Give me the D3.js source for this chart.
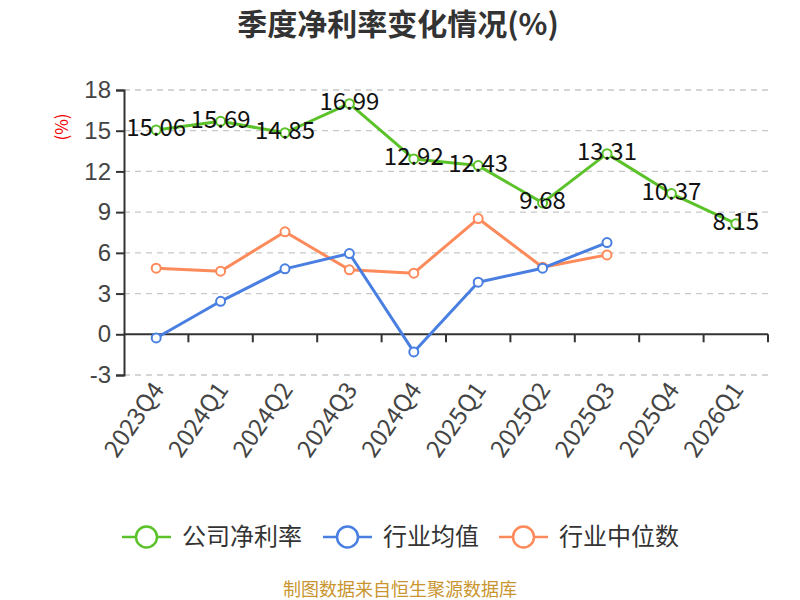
<!DOCTYPE html>
<html>
<head>
<meta charset="utf-8">
<script src="https://cdn.jsdelivr.net/npm/d3@7"></script>
<style>
    body { margin: 0; background: #fff; }
    svg { font-family: "Noto Sans CJK SC", "Noto Sans", sans-serif; }
</style>
</head>
<body>
<div id="chartdiv"></div>
<script>
/*global d3 */

var quarters = ["2023Q4", "2024Q1", "2024Q2", "2024Q3", "2024Q4",
                "2025Q1", "2025Q2", "2025Q3", "2025Q4", "2026Q1"],
    companyRate = [15.06, 15.69, 14.85, 16.99, 12.92, 12.43, 9.68, 13.31, 10.37, 8.15],
    industryAvg = [-0.27, 2.43, 4.82, 5.95, -1.3, 3.84, 4.87, 6.76],
    industryMedian = [4.87, 4.65, 7.55, 4.75, 4.5, 8.53, 4.94, 5.85],
    yTicks = [-3, 0, 3, 6, 9, 12, 15, 18],
    seriesNames = ["公司净利率", "行业均值", "行业中位数"];

var app = (function () {
    "use strict";

    var colors = ["#5cc22a", "#4a7fe2", "#fd8a5a"],
        box = {l: 124, r: 768, t: 90, b: 375};

    function drawAxes(svg, x, y) {
        //dashed grid lines, zero line is the solid x axis
        svg.append("g").selectAll("line")
            .data(yTicks.filter(function (t) { return t !== 0; }))
            .join("line")
            .attr("x1", box.l).attr("x2", box.r)
            .attr("y1", function (t) { return y(t); })
            .attr("y2", function (t) { return y(t); })
            .attr("stroke", "#c8c8c8")
            .attr("stroke-width", 1.3)
            .attr("stroke-dasharray", "6,5");
        var ya = svg.append("g")
            .attr("transform", "translate(" + box.l + ",0)")
            .call(d3.axisLeft(y).tickValues(yTicks).tickSize(8).tickPadding(5)
                  .tickFormat(function (t) { return String(t); }));
        ya.select(".domain").attr("stroke", "#333").attr("stroke-width", 2);
        ya.selectAll(".tick line").attr("stroke", "#333").attr("stroke-width", 2);
        ya.selectAll(".tick text")
            .attr("fill", "#444")
            .style("font-size", "24px");
        var xa = svg.append("g")
            .attr("transform", "translate(0," + y(0) + ")")
            .call(d3.axisBottom(x).tickSize(8).tickFormat(""));
        xa.select(".domain").attr("stroke", "#333").attr("stroke-width", 2)
            .attr("d", "M" + box.l + ",0H" + box.r);
        xa.selectAll(".tick").attr("transform", function (d) {
            return "translate(" + (x(d) + x.bandwidth()) + ",0)"; });
        xa.selectAll(".tick line").attr("stroke", "#333").attr("stroke-width", 2);
        //category labels sit under the plot, rotated
        svg.append("g").selectAll("text")
            .data(quarters)
            .join("text")
            .attr("transform", function (d) {
                return "translate(" + (x(d) + x.bandwidth() / 2 + 2) + "," +
                    (box.b + 10) + ") rotate(-55)"; })
            .attr("text-anchor", "end")
            .attr("dy", "0.35em")
            .attr("fill", "#444")
            .style("font-size", "24px")
            .text(function (d) { return d; });
        svg.append("text")
            .attr("transform", "translate(62," + 127 + ") rotate(-90)")
            .attr("text-anchor", "middle")
            .attr("dy", "0.35em")
            .attr("fill", "#e00")
            .style("font-size", "17px")
            .text("(%)");
    }

    function drawSeries(svg, x, y, vals, color) {
        var cx = function (d, i) { return x(quarters[i]) + x.bandwidth() / 2; },
            line = d3.line().x(cx).y(function (d) { return y(d); });
        svg.append("path")
            .datum(vals)
            .attr("d", line)
            .attr("fill", "none")
            .attr("stroke", color)
            .attr("stroke-width", 3)
            .attr("stroke-linejoin", "round");
        svg.append("g").selectAll("circle")
            .data(vals)
            .join("circle")
            .attr("cx", cx)
            .attr("cy", function (d) { return y(d); })
            .attr("r", 4.5)
            .attr("fill", "#fff")
            .attr("stroke", color)
            .attr("stroke-width", 2);
        return cx;
    }

    function drawLabels(svg, x, y, cx) {
        svg.append("g").selectAll("text")
            .data(companyRate)
            .join("text")
            .attr("x", cx)
            .attr("y", function (d) { return y(d) - 2; })
            .attr("dy", "0.35em")
            .attr("text-anchor", "middle")
            .attr("fill", "#111")
            .style("font-size", "24px")
            .text(function (d) { return d3.format(".2f")(d); });
    }

    function drawLegend(svg) {
        var starts = [122, 323, 499];
        seriesNames.forEach(function (name, i) {
            var g = svg.append("g")
                .attr("transform", "translate(" + starts[i] + ",537)");
            g.append("line")
                .attr("x1", 0).attr("x2", 49)
                .attr("stroke", colors[i]).attr("stroke-width", 2.5);
            g.append("circle")
                .attr("cx", 24.5).attr("r", 10.5)
                .attr("fill", "#fff")
                .attr("stroke", colors[i]).attr("stroke-width", 2.5);
            g.append("text")
                .attr("x", 60)
                .attr("dy", "0.35em")
                .attr("fill", "#333")
                .style("font-size", "24px")
                .text(name);
        });
    }

    function display() {
        var svg, x, y, cx;
        svg = d3.select("#chartdiv").append("svg")
            .attr("width", 800).attr("height", 600);
        x = d3.scaleBand().domain(quarters).range([box.l, box.r]);
        y = d3.scaleLinear().domain([-3, 18]).range([box.b, box.t]);
        svg.append("text")
            .attr("x", 398).attr("y", 35)
            .attr("text-anchor", "middle")
            .attr("fill", "#333")
            .style("font-size", "30px")
            .style("font-weight", "bold")
            .text("季度净利率变化情况(%)");
        drawAxes(svg, x, y);
        drawSeries(svg, x, y, industryMedian, colors[2]);
        drawSeries(svg, x, y, industryAvg, colors[1]);
        cx = drawSeries(svg, x, y, companyRate, colors[0]);
        drawLabels(svg, x, y, cx);
        drawLegend(svg);
        svg.append("text")
            .attr("x", 400).attr("y", 596)
            .attr("text-anchor", "middle")
            .attr("fill", "#c9952f")
            .style("font-size", "18px")
            .text("制图数据来自恒生聚源数据库");
    }

return {
    init: function () {
        display();
    }
};
}());

app.init();
</script>
</body>
</html>
